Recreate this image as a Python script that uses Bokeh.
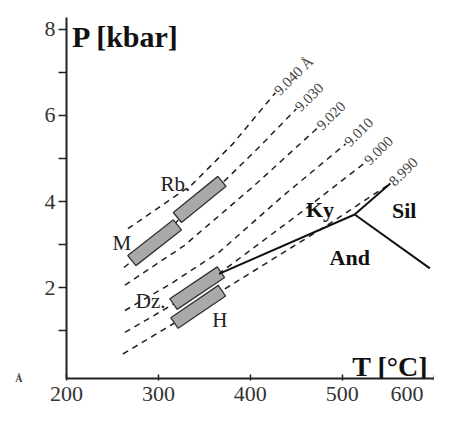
import math
from bokeh.plotting import figure
from bokeh.models import Label, FixedTicker, LinearAxis
from bokeh.embed import file_html
from bokeh.resources import INLINE

# ---------------- data ----------------
# b-parameter isopleths: temperature (deg C) and pressure (kbar)
iso_labels = ["9.040 Å", "9.030", "9.020", "9.010", "9.000", "8.990"]
iso_T = [
    [266.8, 335.8, 381.0, 427.4],
    [262.5, 295.9, 344.4, 373.5, 411.2, 450.0],
    [263.6, 328.2, 403.7, 473.7],
    [263.6, 314.2, 365.9, 436.0, 503.9],
    [263.6, 316.4, 368.1, 452.2, 525.4],
    [261.4, 317.5, 369.2, 484.5, 552.4],
]
iso_P = [
    [3.37, 4.38, 5.34, 6.53],
    [2.47, 3.04, 4.03, 4.51, 5.30, 6.15],
    [2.06, 2.98, 4.36, 5.72],
    [1.47, 2.10, 2.82, 4.14, 5.34],
    [0.96, 1.62, 2.36, 3.70, 4.91],
    [0.46, 1.18, 1.93, 3.46, 4.42],
]

# sample boxes: start / end of the P-T range
box_names = ["M", "Rb.", "Dz.", "H"]
box_T0 = [271.1, 320.7, 316.4, 317.5]
box_P0 = [2.63, 3.63, 1.62, 1.18]
box_T1 = [320.7, 369.2, 368.1, 369.2]
box_P1 = [3.46, 4.47, 2.36, 1.93]
box_label_T = [260.3, 318.5, 291.6, 367.0]
box_label_P = [3.04, 4.42, 1.69, 1.25]

# Al2SiO5 phase boundaries
ky_and_T = [365.9, 513.6]
ky_and_P = [2.32, 3.70]
ky_sil_T = [513.6, 552.4]
ky_sil_P = [3.70, 4.42]
and_sil_T = [513.6, 595.5]
and_sil_P = [3.70, 2.45]
phase_names = ["Ky", "Sil", "And"]
phase_T = [475.9, 567.5, 508.2]
phase_P = [3.81, 3.79, 2.69]

NB = "\u00a0"  # no-break spaces keep the last label inside the canvas
x_ticks = [200, 300, 400, 500, 600]
x_tick_text = {200: "200", 300: "300", 400: "400", 500: "500", 600: "600" + NB * 2}
y_ticks = [1, 2, 3, 4, 5, 6, 7, 8]
y_tick_text = {1: "", 2: "2", 3: "", 4: "4", 5: "", 6: "6", 7: "", 8: "8"}
corner_tick = [-0.1]
corner_text = {-0.1: "Å"}

# ---------------- figure ----------------
W, H = 434, 408
BL, BR, BT, BB = 66, 0, 17, 27
X0, X1 = 200, 600.5
Y0, Y1 = -0.109, 8.276
SERIF = "Liberation Serif"

p = figure(width=W, height=H, x_range=(X0, X1), y_range=(Y0, Y1),
           output_backend="svg", toolbar_location=None,
           min_border_left=BL, min_border_right=BR,
           min_border_top=BT, min_border_bottom=BB)
p.outline_line_color = None
p.xgrid.grid_line_color = None
p.ygrid.grid_line_color = None
p.background_fill_color = "white"

sx = (W - BL - BR) / (X1 - X0)
sy = (H - BT - BB) / (Y1 - Y0)

for ax in (p.xaxis[0], p.yaxis[0]):
    ax.axis_line_width = 2
    ax.axis_line_color = "#222222"
    ax.major_tick_line_color = "#222222"
    ax.major_tick_line_width = 1.5
    ax.minor_tick_line_color = None
    ax.major_label_text_font = SERIF
    ax.major_label_text_font_size = "22px"
    ax.major_label_text_color = "#333333"

p.xaxis.ticker = FixedTicker(ticks=x_ticks)
p.xaxis.major_label_overrides = x_tick_text
p.xaxis.major_tick_in = 4
p.xaxis.major_tick_out = 2
p.xaxis.major_label_standoff = 0

p.yaxis.ticker = FixedTicker(ticks=y_ticks)
p.yaxis.major_label_overrides = y_tick_text
p.yaxis.major_tick_in = 0
p.yaxis.major_tick_out = 8
p.yaxis.major_label_standoff = 3

# small stray "Å" mark at the lower-left corner (label-only axis)
corner = LinearAxis(ticker=FixedTicker(ticks=corner_tick),
                    major_label_overrides=corner_text,
                    axis_line_color=None, major_tick_line_color=None,
                    minor_tick_line_color=None, major_tick_in=0, major_tick_out=0,
                    major_label_standoff=19, major_label_text_font=SERIF,
                    major_label_text_font_size="10px",
                    major_label_text_font_style="bold",
                    major_label_text_color="#333333")
p.add_layout(corner, "left")

# isopleths
for T, P in zip(iso_T, iso_P):
    p.line(T, P, line_color="#222222", line_width=1.5, line_dash="6 5")
for lab, T, P in zip(iso_labels, iso_T, iso_P):
    p.add_layout(Label(x=T[-1], y=P[-1], text=lab, angle=0.78,
                       text_font=SERIF, text_font_size="15px",
                       text_color="#444444", text_align="left",
                       text_baseline="middle", x_offset=1))

# boxes
half = 6.5
xs, ys = [], []
for T0, P0, T1, P1 in zip(box_T0, box_P0, box_T1, box_P1):
    dxs, dys = (T1 - T0) * sx, (P1 - P0) * sy
    L = math.hypot(dxs, dys)
    ux, uy = dxs / L, dys / L
    dT, dP = -uy * half / sx, ux * half / sy
    xs.append([T0 + dT, T1 + dT, T1 - dT, T0 - dT])
    ys.append([P0 + dP, P1 + dP, P1 - dP, P0 - dP])
p.patches(xs, ys, fill_color="#a9a9a9", line_color="#333333", line_width=1.3)
for n, T, P in zip(box_names, box_label_T, box_label_P):
    p.add_layout(Label(x=T, y=P, text=n, text_font=SERIF, text_font_size="21px",
                       text_color="#222222", text_align="center",
                       text_baseline="middle"))

# phase boundaries
for T, P in ((ky_and_T, ky_and_P), (ky_sil_T, ky_sil_P), (and_sil_T, and_sil_P)):
    p.line(T, P, line_color="#111111", line_width=2)
for n, T, P in zip(phase_names, phase_T, phase_P):
    p.add_layout(Label(x=T, y=P, text=n, text_font=SERIF, text_font_size="22px",
                       text_font_style="bold", text_color="#111111",
                       text_align="center", text_baseline="middle"))

# axis titles
p.add_layout(Label(x=206.0, y=7.84, text="P [kbar]", text_font=SERIF,
                   text_font_size="30px", text_font_style="bold",
                   text_color="#111111", text_baseline="alphabetic"))
p.add_layout(Label(x=511.0, y=0.16, text="T [°C]", text_font=SERIF,
                   text_font_size="28px", text_font_style="bold",
                   text_color="#111111", text_baseline="alphabetic"))

open("out.html", "w").write(file_html(p, INLINE))
